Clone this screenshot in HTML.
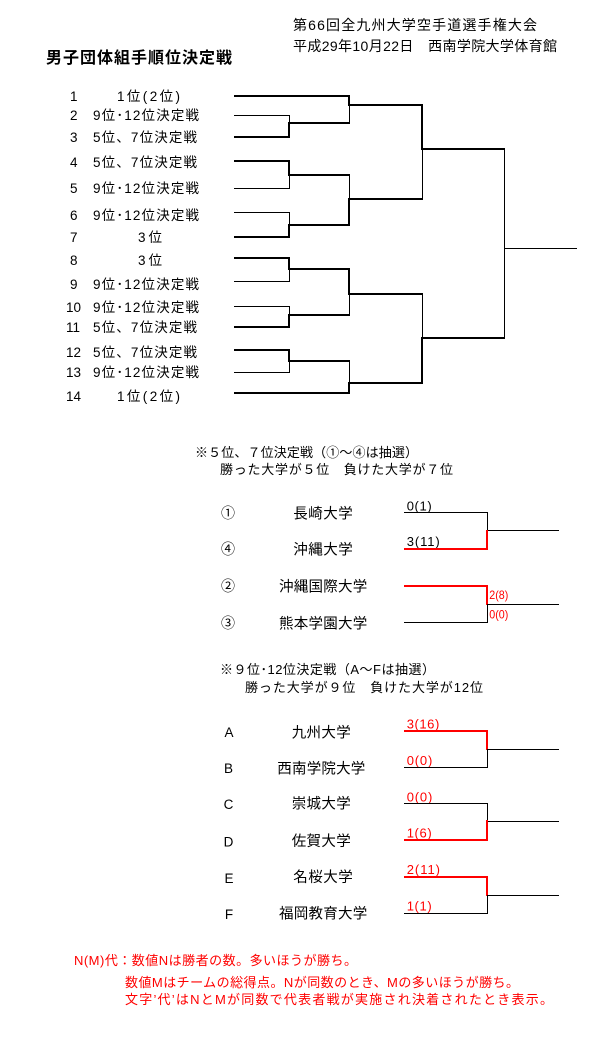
<!DOCTYPE html>
<html>
<head>
<meta charset="utf-8">
<style>
html,body{margin:0;padding:0;background:#fff;}
body{width:603px;height:1053px;overflow:hidden;}
svg{display:block;}
text{font-family:"Liberation Sans","Noto Sans CJK JP",sans-serif;fill:#000;}
.r{fill:#ff0000;}
</style>
</head>
<body>
<svg width="603" height="1053" viewBox="0 0 603 1053" xmlns="http://www.w3.org/2000/svg" shape-rendering="crispEdges">
<rect width="603" height="1053" fill="#fff"/>

<!-- Header -->
<text x="293" y="30" font-size="14" textLength="244" lengthAdjust="spacing">第66回全九州大学空手道選手権大会</text>
<text x="293" y="51" font-size="14" textLength="264" lengthAdjust="spacing">平成29年10月22日　西南学院大学体育館</text>
<text x="46" y="63" font-size="16" font-weight="bold" textLength="186" lengthAdjust="spacing">男子団体組手順位決定戦</text>

<!-- List numbers -->
<g font-size="13.5">
<text x="70" y="101">1</text>
<text x="70" y="120">2</text>
<text x="70" y="142">3</text>
<text x="70" y="167">4</text>
<text x="70" y="193">5</text>
<text x="70" y="220">6</text>
<text x="70" y="242">7</text>
<text x="70" y="265">8</text>
<text x="70" y="289">9</text>
<text x="66" y="312">10</text>
<text x="66" y="332">11</text>
<text x="66" y="357">12</text>
<text x="66" y="377">13</text>
<text x="66" y="401">14</text>
</g>
<!-- List entries -->
<g font-size="13.5">
<text x="117" y="101" textLength="63" lengthAdjust="spacing">1位(2位)</text>
<text x="93" y="120" textLength="106" lengthAdjust="spacing">9位･12位決定戦</text>
<text x="93" y="142" textLength="104" lengthAdjust="spacing">5位、7位決定戦</text>
<text x="93" y="167" textLength="104" lengthAdjust="spacing">5位、7位決定戦</text>
<text x="93" y="193" textLength="106" lengthAdjust="spacing">9位･12位決定戦</text>
<text x="93" y="220" textLength="106" lengthAdjust="spacing">9位･12位決定戦</text>
<text x="138" y="242" textLength="24" lengthAdjust="spacing">3位</text>
<text x="138" y="265" textLength="24" lengthAdjust="spacing">3位</text>
<text x="93" y="289" textLength="106" lengthAdjust="spacing">9位･12位決定戦</text>
<text x="93" y="312" textLength="106" lengthAdjust="spacing">9位･12位決定戦</text>
<text x="93" y="332" textLength="104" lengthAdjust="spacing">5位、7位決定戦</text>
<text x="93" y="357" textLength="104" lengthAdjust="spacing">5位、7位決定戦</text>
<text x="93" y="377" textLength="106" lengthAdjust="spacing">9位･12位決定戦</text>
<text x="117" y="401" textLength="63" lengthAdjust="spacing">1位(2位)</text>
</g>

<!-- Main bracket -->
<g fill="#000">
<rect x="234" y="95" width="116" height="2"/>
<rect x="234" y="115" width="56" height="1"/>
<rect x="234" y="136" width="56" height="2"/>
<rect x="289" y="115" width="1" height="8"/>
<rect x="288" y="122" width="2" height="16"/>
<rect x="288" y="122" width="62" height="2"/>
<rect x="348" y="95" width="2" height="11"/>
<rect x="349" y="105" width="1" height="18"/>
<rect x="348" y="104" width="75" height="2"/>

<rect x="234" y="160" width="56" height="2"/>
<rect x="234" y="188" width="56" height="1"/>
<rect x="288" y="160" width="2" height="16"/>
<rect x="289" y="175" width="1" height="14"/>
<rect x="288" y="174" width="62" height="2"/>
<rect x="234" y="212" width="56" height="1"/>
<rect x="234" y="236" width="56" height="2"/>
<rect x="289" y="212" width="1" height="13"/>
<rect x="288" y="224" width="2" height="14"/>
<rect x="288" y="224" width="62" height="2"/>
<rect x="349" y="175" width="1" height="24"/>
<rect x="348" y="198" width="2" height="28"/>
<rect x="348" y="198" width="75" height="2"/>

<rect x="421" y="104" width="2" height="46"/>
<rect x="422" y="149" width="1" height="51"/>
<rect x="421" y="148" width="84" height="2"/>

<rect x="234" y="257" width="56" height="2"/>
<rect x="234" y="281" width="56" height="1"/>
<rect x="288" y="257" width="2" height="13"/>
<rect x="289" y="269" width="1" height="13"/>
<rect x="288" y="268" width="62" height="2"/>
<rect x="234" y="306" width="56" height="1"/>
<rect x="234" y="326" width="56" height="2"/>
<rect x="289" y="306" width="1" height="10"/>
<rect x="288" y="314" width="2" height="14"/>
<rect x="288" y="314" width="62" height="2"/>
<rect x="348" y="268" width="2" height="27"/>
<rect x="349" y="294" width="1" height="21"/>
<rect x="348" y="293" width="75" height="2"/>

<rect x="234" y="349" width="56" height="2"/>
<rect x="234" y="372" width="56" height="1"/>
<rect x="288" y="349" width="2" height="13"/>
<rect x="289" y="361" width="1" height="12"/>
<rect x="288" y="360" width="62" height="2"/>
<rect x="234" y="392" width="116" height="2"/>
<rect x="349" y="361" width="1" height="22"/>
<rect x="348" y="382" width="2" height="12"/>
<rect x="348" y="382" width="75" height="2"/>

<rect x="422" y="294" width="1" height="44"/>
<rect x="421" y="337" width="2" height="47"/>
<rect x="421" y="337" width="84" height="2"/>

<rect x="504" y="149" width="1" height="190"/>
<rect x="504" y="248" width="73" height="1"/>
</g>

<!-- Section 1 -->
<text x="195" y="457" font-size="13" textLength="223" lengthAdjust="spacing">※５位、７位決定戦（①～④は抽選）</text>
<text x="220" y="474" font-size="13" textLength="233" lengthAdjust="spacing">勝った大学が５位　負けた大学が７位</text>

<g font-size="14" text-anchor="middle">
<text x="228" y="518">①</text>
<text x="228" y="554">④</text>
<text x="228" y="591">②</text>
<text x="228" y="628">③</text>
</g>
<g font-size="14.5">
<text x="293.3" y="518.4" textLength="59.4" lengthAdjust="spacing">長崎大学</text>
<text x="293.3" y="554.4" textLength="59.4" lengthAdjust="spacing">沖縄大学</text>
<text x="279" y="591.4" textLength="88.3" lengthAdjust="spacing">沖縄国際大学</text>
<text x="279" y="628.4" textLength="88.3" lengthAdjust="spacing">熊本学園大学</text>
</g>

<text x="406.7" y="510.7" font-size="13" textLength="25" lengthAdjust="spacing">0(1)</text>
<text x="406.7" y="546" font-size="13" textLength="33" lengthAdjust="spacing">3(11)</text>
<text class="r" x="489.3" y="599" font-size="12" textLength="19" lengthAdjust="spacingAndGlyphs">2(8)</text>
<text class="r" x="489.3" y="618.3" font-size="12" textLength="19" lengthAdjust="spacingAndGlyphs">0(0)</text>

<g>
<rect x="404" y="512" width="83" height="1" fill="#000"/>
<rect x="487" y="512" width="1" height="19" fill="#000"/>
<rect x="487" y="530" width="72" height="1" fill="#000"/>
<rect x="404" y="548" width="84" height="2" fill="#ff0000"/>
<rect x="486" y="530" width="2" height="20" fill="#ff0000"/>

<rect x="404" y="585" width="84" height="2" fill="#ff0000"/>
<rect x="486" y="585" width="2" height="20" fill="#ff0000"/>
<rect x="487" y="604" width="1" height="18" fill="#000"/>
<rect x="404" y="622" width="84" height="1" fill="#000"/>
<rect x="487" y="604" width="72" height="1" fill="#000"/>
</g>

<!-- Section 2 -->
<text x="220" y="674" font-size="13" textLength="215" lengthAdjust="spacing">※９位･12位決定戦（A～Fは抽選）</text>
<text x="245" y="692" font-size="13" textLength="238" lengthAdjust="spacing">勝った大学が９位　負けた大学が12位</text>

<g font-size="13.5" text-anchor="middle">
<text x="229" y="737">A</text>
<text x="228.5" y="773">B</text>
<text x="228.5" y="809">C</text>
<text x="228.5" y="846.5">D</text>
<text x="229" y="883">E</text>
<text x="229" y="919">F</text>
</g>
<g font-size="14.5">
<text x="291.7" y="737.4" textLength="59" lengthAdjust="spacing">九州大学</text>
<text x="277.3" y="773.4" textLength="88" lengthAdjust="spacing">西南学院大学</text>
<text x="291.7" y="808.7" textLength="59" lengthAdjust="spacing">崇城大学</text>
<text x="291.7" y="846" textLength="59" lengthAdjust="spacing">佐賀大学</text>
<text x="293.3" y="882" textLength="59.4" lengthAdjust="spacing">名桜大学</text>
<text x="279" y="918.7" textLength="88.3" lengthAdjust="spacing">福岡教育大学</text>
</g>

<g font-size="13">
<text class="r" x="406.7" y="728.3" textLength="32.6" lengthAdjust="spacing">3(16)</text>
<text class="r" x="406.7" y="765" textLength="25.6" lengthAdjust="spacing">0(0)</text>
<text class="r" x="406.7" y="801.7" textLength="25.6" lengthAdjust="spacing">0(0)</text>
<text class="r" x="406.7" y="837.3" textLength="25" lengthAdjust="spacing">1(6)</text>
<text class="r" x="406.7" y="874" textLength="33.3" lengthAdjust="spacing">2(11)</text>
<text class="r" x="406.7" y="910.7" textLength="25" lengthAdjust="spacing">1(1)</text>
</g>

<g>
<rect x="404" y="730" width="84" height="2" fill="#ff0000"/>
<rect x="486" y="730" width="2" height="20" fill="#ff0000"/>
<rect x="487" y="749" width="1" height="18" fill="#000"/>
<rect x="404" y="767" width="84" height="1" fill="#000"/>
<rect x="487" y="749" width="72" height="1" fill="#000"/>

<rect x="404" y="803" width="84" height="1" fill="#000"/>
<rect x="487" y="803" width="1" height="18" fill="#000"/>
<rect x="487" y="821" width="72" height="1" fill="#000"/>
<rect x="486" y="820" width="2" height="21" fill="#ff0000"/>
<rect x="404" y="839" width="84" height="2" fill="#ff0000"/>

<rect x="404" y="876" width="84" height="2" fill="#ff0000"/>
<rect x="486" y="876" width="2" height="20" fill="#ff0000"/>
<rect x="487" y="895" width="1" height="18" fill="#000"/>
<rect x="404" y="913" width="84" height="1" fill="#000"/>
<rect x="487" y="895" width="72" height="1" fill="#000"/>
</g>

<!-- Footnote -->
<g font-size="13">
<text class="r" x="74" y="965" textLength="283" lengthAdjust="spacing">N(M)代：数値Nは勝者の数。多いほうが勝ち。</text>
<text class="r" x="125" y="987" textLength="394" lengthAdjust="spacing">数値Mはチームの総得点。Nが同数のとき、Mの多いほうが勝ち。</text>
<text class="r" x="125" y="1004" textLength="428" lengthAdjust="spacing">文字’代’はNとMが同数で代表者戦が実施され決着されたとき表示。</text>
</g>
</svg>
</body>
</html>
